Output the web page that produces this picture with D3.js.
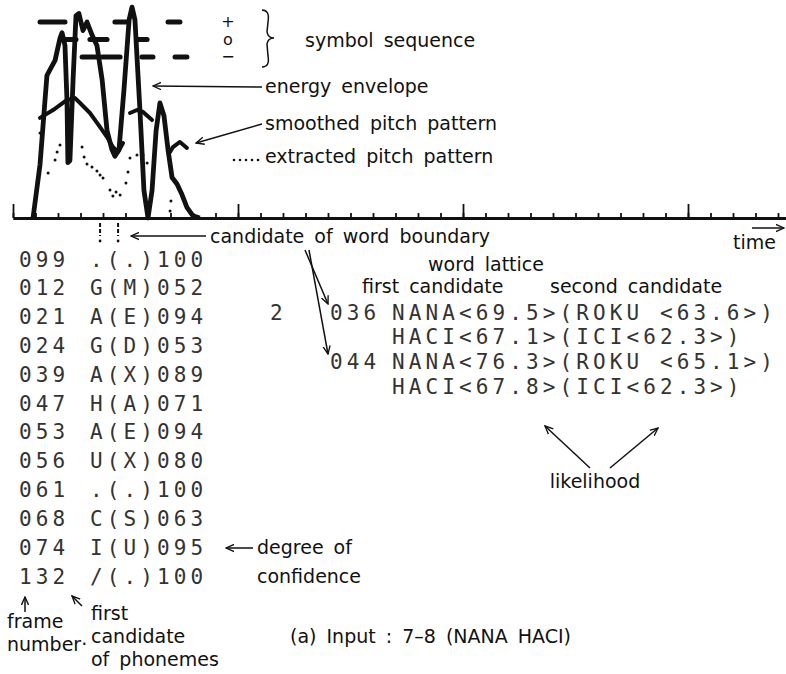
<!DOCTYPE html>
<html>
<head>
<meta charset="utf-8">
<script src="https://cdn.jsdelivr.net/npm/d3@7"></script>
<style>
  body { margin: 0; background: #fff; }
  svg { display: block; }
  .lbl { font-family: "DejaVu Sans", sans-serif; font-size: 19px; word-spacing: 4px; fill: #111; }
  .sml { font-family: "DejaVu Sans", sans-serif; font-size: 16px; fill: #111; }
  .prn { font-family: "DejaVu Sans Mono", "Liberation Mono", monospace; font-size: 21px; letter-spacing: 4.1px; fill: #333; }
</style>
</head>
<body>
<svg id="chart" width="786" height="674"></svg>
<script>
// time runs in tick units (one small tick = 10), level runs 0..100

const energyEnvelope = [
  [8.9, 0], [12, 25], [14.2, 55], [15.1, 67], [16.4, 69.5], [18.7, 74], [20.9, 84.5], [21.8, 87],
  [23.1, 81], [24, 55], [24.4, 26], [25.3, 27], [26.7, 65], [28, 95], [29.3, 96], [31.1, 88],
  [32.9, 92], [35.1, 86], [37.3, 81], [39.6, 65], [41.8, 41], [44, 32], [45.3, 29], [47.1, 32],
  [49.3, 60], [51.6, 93], [52.9, 99], [54.2, 93], [56.4, 51], [58.2, 13], [60, 0], [61.8, 13],
  [63.6, 41], [65.3, 54], [67.1, 48], [68.9, 32], [70.7, 19], [72.9, 16], [75.1, 11], [77.3, 5],
  [80, 1], [83, 0]
];

const smoothedPitch = [
  [[12, 47], [17.8, 50.7], [24, 55.4], [27.6, 56.3], [29.8, 54], [34.2, 49.3], [38.7, 42.7],
   [41.8, 38], [44.4, 33.3], [46.7, 31], [48.9, 35.2]],
  [[52, 49.3], [55.1, 50.7], [57.8, 49.8], [61.8, 46]],
  [[69.8, 31], [71.1, 33.3], [74.2, 35.7], [77.3, 32.9]]
];

const extractedPitch = [
  [12, 39.9], [15.6, 21.1], [18.7, 27.2], [19.6, 31], [20.9, 34.3], [30.7, 33.3], [31.6, 28.6],
  [32.9, 25.4], [35.1, 23.9], [37.3, 22.1], [38.7, 20.2], [40, 18.8], [43.1, 13.1], [44.4, 10.3],
  [45.8, 12.2], [47.6, 10.8], [50.2, 16.4], [51.1, 21.6], [52, 28.2], [55.1, 29.6], [57.8, 29.6],
  [59.6, 25.8], [70.2, 8], [69.8, 3.3]
];

const symbolLevels = ['+', 'o', '−'];
const symbolSequence = [
  { level: '+', from: 12, to: 23.1 }, { level: 'o', from: 22.2, to: 28 },
  { level: '−', from: 30.7, to: 37.3 }, { level: 'o', from: 34.2, to: 41.8 },
  { level: '−', from: 39.6, to: 47.6 }, { level: '+', from: 45.3, to: 50.7 },
  { level: 'o', from: 55.6, to: 59.6 }, { level: '−', from: 57.3, to: 62.2 },
  { level: '+', from: 68.9, to: 74.2 }, { level: '−', from: 72, to: 77.3 }
];

const wordBoundaries = [38.7, 46.7];

const minorTicks = d3.range(0, 345, 10);
const majorTicks = [0, 100, 200, 300];

const frameNumbers = ['099', '012', '021', '024', '039', '047', '053', '056', '061', '068', '074', '132'];
const phonemeCandidates = ['.(.)100', 'G(M)052', 'A(E)094', 'G(D)053', 'A(X)089', 'H(A)071',
  'A(E)094', 'U(X)080', '.(.)100', 'C(S)063', 'I(U)095', '/(.)100'];

const latticeFrames = ['036', '', '044', ''];
const latticeWords = ['NANA<69.5>(ROKU <63.6>)', 'HACI<67.1>(ICI<62.3>)',
  'NANA<76.3>(ROKU <65.1>)', 'HACI<67.8>(ICI<62.3>)'];

const svg = d3.select('#chart');

svg.append('defs').append('marker')
  .attr('id', 'arr')
  .attr('viewBox', '0 -5 10 10')
  .attr('refX', 9).attr('refY', 0)
  .attr('markerUnits', 'userSpaceOnUse')
  .attr('markerWidth', 9).attr('markerHeight', 9)
  .attr('orient', 'auto')
  .append('path')
  .attr('d', 'M0,-4L9,0L0,4')
  .attr('fill', 'none').attr('stroke', '#111').attr('stroke-width', 1.5);

const x = d3.scaleLinear().domain([0, 344]).range([13, 787]);
const y = d3.scaleLinear().domain([0, 100]).range([218, 5]);
const sy = d3.scalePoint().domain(symbolLevels).range([22, 57]);

// time axis
const axMinor = svg.append('g').attr('transform', `translate(0,${y(0)})`)
  .call(d3.axisTop(x).tickValues(minorTicks).tickSize(5).tickSizeOuter(0).tickFormat(''));
const axMajor = svg.append('g').attr('transform', `translate(0,${y(0)})`)
  .call(d3.axisTop(x).tickValues(majorTicks).tickSize(14).tickSizeOuter(0).tickFormat(''));
[axMinor, axMajor].forEach(a => {
  a.select('.domain').attr('stroke', '#111').attr('stroke-width', 2.8);
  a.selectAll('.tick line').attr('stroke', '#111').attr('stroke-width', 1.8);
});

const line = d3.line().x(d => x(d[0])).y(d => y(d[1]));

svg.append('path').datum(energyEnvelope)
  .attr('d', line).attr('fill', 'none').attr('stroke', '#111')
  .attr('stroke-width', 4.8).attr('stroke-linejoin', 'round');

svg.selectAll('.smooth').data(smoothedPitch).join('path')
  .attr('class', 'smooth').attr('d', line).attr('fill', 'none').attr('stroke', '#111')
  .attr('stroke-width', 4).attr('stroke-linejoin', 'round').attr('stroke-linecap', 'round');

svg.selectAll('.dot').data(extractedPitch).join('circle')
  .attr('class', 'dot').attr('cx', d => x(d[0])).attr('cy', d => y(d[1]))
  .attr('r', 1.5).attr('fill', '#111');

svg.selectAll('.sym').data(symbolSequence).join('line')
  .attr('class', 'sym')
  .attr('x1', d => x(d.from)).attr('x2', d => x(d.to))
  .attr('y1', d => sy(d.level)).attr('y2', d => sy(d.level))
  .attr('stroke', '#111').attr('stroke-width', 5).attr('stroke-linecap', 'round');

// word boundary marks under the axis
const wb = svg.selectAll('.wb').data(wordBoundaries).join('g').attr('class', 'wb');
wb.append('line').attr('x1', d => x(d)).attr('x2', d => x(d))
  .attr('y1', 223).attr('y2', 236).attr('stroke', '#111').attr('stroke-width', 2)
  .attr('stroke-dasharray', '4,2');
wb.append('circle').attr('cx', d => x(d)).attr('cy', 241).attr('r', 1.4).attr('fill', '#111');

// legend of symbol levels
svg.selectAll('.symlbl').data(symbolLevels).join('text')
  .attr('class', 'sml').attr('x', 228).attr('y', d => sy(d) + 5)
  .attr('text-anchor', 'middle').text(d => d);
svg.append('path')
  .attr('d', 'M262,10 Q270,10 268,22 L267,32 Q268,38 274,38 Q268,38 267,44 L268,56 Q270,67 262,67')
  .attr('fill', 'none').attr('stroke', '#111').attr('stroke-width', 1.5);

const label = (tx, ty, s, anchor) => svg.append('text').attr('class', 'lbl')
  .attr('x', tx).attr('y', ty).attr('text-anchor', anchor || 'start').text(s);
const arrow = (x1, y1, x2, y2) => svg.append('line')
  .attr('x1', x1).attr('y1', y1).attr('x2', x2).attr('y2', y2)
  .attr('stroke', '#111').attr('stroke-width', 1.5).attr('marker-end', 'url(#arr)');

label(305, 47, 'symbol sequence');
label(265, 93, 'energy envelope');
arrow(262, 87, 153, 86);
label(265, 130, 'smoothed pitch pattern');
arrow(262, 124, 196, 143);
svg.selectAll('.lgdot').data(d3.range(5)).join('circle')
  .attr('class', 'lgdot').attr('cx', d => 234 + d * 6).attr('cy', 160).attr('r', 1.3).attr('fill', '#111');
label(265, 163, 'extracted pitch pattern');

label(210, 243, 'candidate of word boundary');
arrow(206, 236, 131, 236);
label(733, 249, 'time');
arrow(752, 228, 784, 228);

// phoneme table
const rowY = d3.scalePoint().domain(d3.range(frameNumbers.length)).range([259.5, 576.5]);
svg.selectAll('.fr').data(frameNumbers).join('text')
  .attr('class', 'prn fr').attr('x', 19).attr('y', (d, i) => rowY(i) + 7).text(d => d);
svg.selectAll('.ph').data(phonemeCandidates).join('text')
  .attr('class', 'prn ph').attr('x', 90).attr('y', (d, i) => rowY(i) + 7).text(d => d);

arrow(253, 548, 226, 548);
label(257, 554, 'degree of');
label(257, 583, 'confidence');

arrow(25, 612, 25, 597);
label(7, 628, 'frame');
label(7, 651, 'number·');
arrow(82, 606, 72, 596);
label(91, 620, 'first');
label(91, 643, 'candidate');
label(91, 666, 'of phonemes');
label(290, 643, '(a) Input : 7–8 (NANA HACI)');

// word lattice
label(486, 271, 'word lattice', 'middle');
label(362, 293, 'first candidate');
label(550, 293, 'second candidate');
const latY = [313, 337, 362, 387];
svg.append('text').attr('class', 'prn').attr('x', 270).attr('y', latY[0] + 7).text('2');
svg.selectAll('.lf').data(latticeFrames).join('text')
  .attr('class', 'prn lf').attr('x', 330).attr('y', (d, i) => latY[i] + 7).text(d => d);
svg.selectAll('.lw').data(latticeWords).join('text')
  .attr('class', 'prn lw').attr('x', 392).attr('y', (d, i) => latY[i] + 7).text(d => d);
arrow(305, 250, 328, 304);
arrow(309, 250, 328, 354);

label(595, 488, 'likelihood', 'middle');
arrow(590, 468, 545, 426);
arrow(610, 468, 658, 428);
</script>
</body>
</html>
